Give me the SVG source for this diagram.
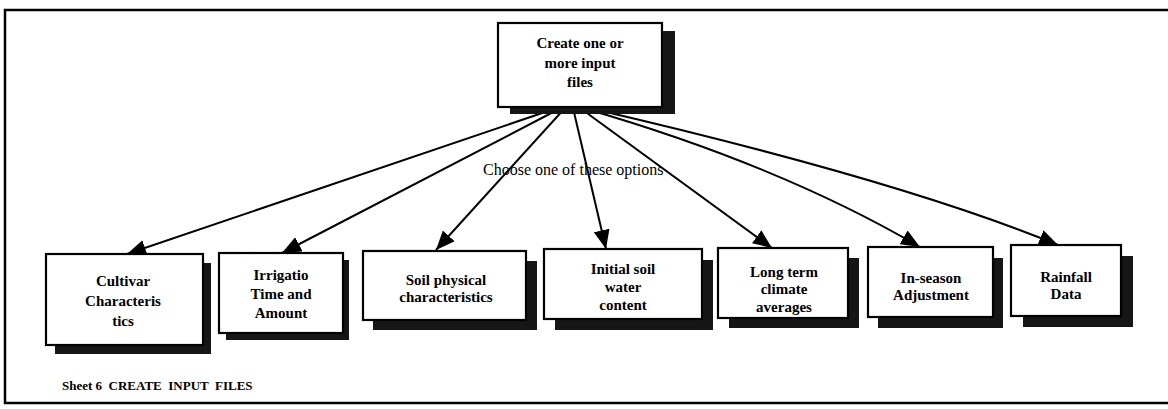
<svg xmlns="http://www.w3.org/2000/svg" width="1168" height="409" viewBox="0 0 1168 409">
  <style>
    .frame { fill: none; stroke: #000; stroke-width: 2.5; }
    .box { fill: #fff; stroke: #000; stroke-width: 2.2; }
    .shadow { fill: #161616; }
    .label { font-family: "Liberation Serif", "Times New Roman", serif; font-size: 15px; font-weight: bold; fill: #000; text-anchor: middle; }
    .link { fill: none; stroke: #000; stroke-width: 2; marker-end: url(#head); }
    .note { font-family: "Liberation Serif", "Times New Roman", serif; font-size: 16px; fill: #000; }
    .caption { font-family: "Liberation Serif", "Times New Roman", serif; font-size: 13px; font-weight: bold; fill: #000; white-space: pre; }
  </style>
  <defs>
    <marker id="head" markerUnits="userSpaceOnUse" markerWidth="20" markerHeight="16" refX="19" refY="8" orient="auto">
      <path d="M0,0 L19,8 L0,16 Z" fill="#000"/>
    </marker>
  </defs>

  <rect width="1168" height="409" fill="#fff"/>

  <!-- sheet border: open on the right -->
  <path class="frame" d="M1168,10 L5,10 L5,403 L1168,403"/>

  <!-- connectors sit under the root node's shadow -->
  <g id="connectors">
    <line class="link" x1="557" y1="108" x2="127" y2="254"/>
    <line class="link" x1="561" y1="108" x2="282" y2="253"/>
    <line class="link" x1="565" y1="108" x2="436" y2="250"/>
    <line class="link" x1="573" y1="108" x2="606" y2="249"/>
    <line class="link" x1="580" y1="108" x2="772" y2="248"/>
    <path class="link" d="M583,108 Q780,165 920,247"/>
    <path class="link" d="M589,108 Q900,180 1058,245"/>
  </g>

  <!-- root node -->
  <g id="create-input">
    <rect class="shadow" x="510" y="31" width="165" height="83"/>
    <rect class="box" x="498" y="23" width="164" height="84"/>
    <text class="label" x="580" y="48">Create one or</text>
    <text class="label" x="580" y="68">more input</text>
    <text class="label" x="580" y="87">files</text>
  </g>

  <text class="note" x="483" y="175">Choose one of these options</text>

  <g id="cultivar">
    <rect class="shadow" x="55" y="263" width="156" height="91"/>
    <rect class="box" x="46" y="254" width="157" height="91"/>
    <text class="label" x="123" y="286">Cultivar</text>
    <text class="label" x="123" y="306">Characteris</text>
    <text class="label" x="123" y="326">tics</text>
  </g>

  <g id="irrigation">
    <rect class="shadow" x="226" y="260" width="123" height="80"/>
    <rect class="box" x="219" y="253" width="124" height="80"/>
    <text class="label" x="281" y="280">Irrigatio</text>
    <text class="label" x="281" y="299">Time and</text>
    <text class="label" x="281" y="318">Amount</text>
  </g>

  <g id="soil-physical">
    <rect class="shadow" x="373" y="261" width="164" height="69"/>
    <rect class="box" x="363" y="251" width="163" height="69"/>
    <text class="label" x="446" y="285">Soil physical</text>
    <text class="label" x="446" y="302">characteristics</text>
  </g>

  <g id="initial-water">
    <rect class="shadow" x="555" y="260" width="158" height="70"/>
    <rect class="box" x="544" y="249" width="158" height="70"/>
    <text class="label" x="623" y="274">Initial soil</text>
    <text class="label" x="623" y="292">water</text>
    <text class="label" x="623" y="310">content</text>
  </g>

  <g id="climate-averages">
    <rect class="shadow" x="729" y="258" width="130" height="70"/>
    <rect class="box" x="718" y="248" width="130" height="70"/>
    <text class="label" x="784" y="277">Long term</text>
    <text class="label" x="784" y="294">climate</text>
    <text class="label" x="784" y="312">averages</text>
  </g>

  <g id="in-season">
    <rect class="shadow" x="878" y="258" width="125" height="70"/>
    <rect class="box" x="868" y="247" width="125" height="70"/>
    <text class="label" x="931" y="283">In-season</text>
    <text class="label" x="931" y="300">Adjustment</text>
  </g>

  <g id="rainfall">
    <rect class="shadow" x="1023" y="256" width="110" height="71"/>
    <rect class="box" x="1011" y="245" width="110" height="71"/>
    <text class="label" x="1066" y="282">Rainfall</text>
    <text class="label" x="1066" y="299">Data</text>
  </g>

  <text class="caption" x="62" y="390" xml:space="preserve">Sheet 6  CREATE  INPUT  FILES</text>
</svg>
